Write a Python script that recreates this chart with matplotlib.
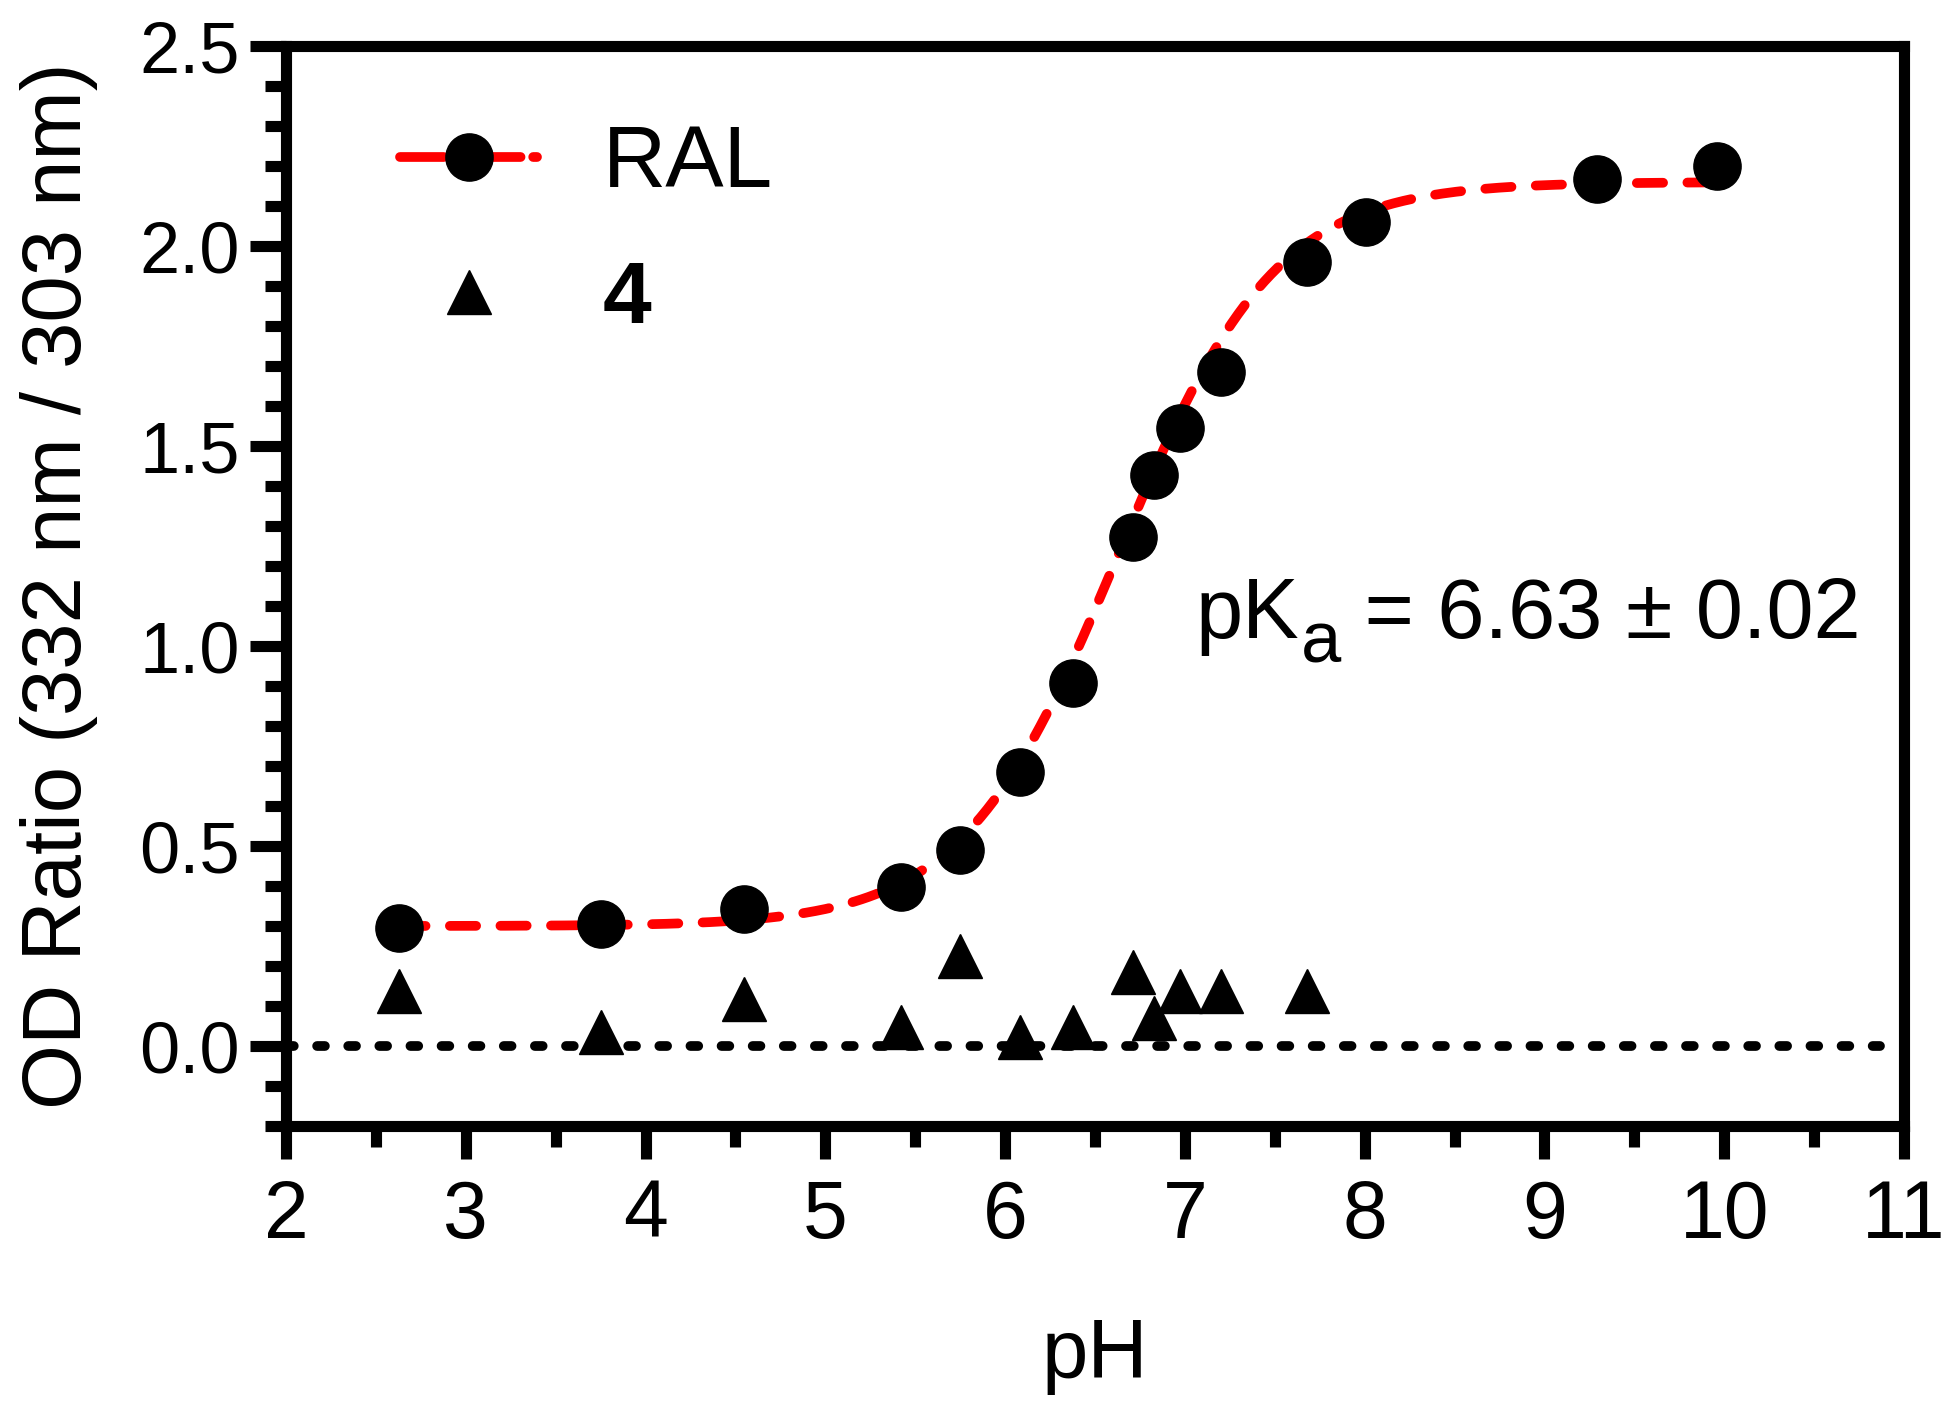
import numpy as np
import matplotlib
matplotlib.use('Agg')
import matplotlib.pyplot as plt
from matplotlib.ticker import FixedLocator, MultipleLocator

plt.rcParams['font.family'] = ['Liberation Sans', 'DejaVu Sans']
plt.rcParams['mathtext.default'] = 'regular'

# RAL absorbance ratio vs pH
ph_ral = [2.63, 3.75, 4.55, 5.42, 5.75, 6.08, 6.38, 6.71, 6.83, 6.97, 7.20, 7.68, 8.01, 9.29, 9.96]
od_ral = [0.295, 0.305, 0.342, 0.398, 0.491, 0.684, 0.908, 1.272, 1.428, 1.546, 1.686, 1.960, 2.059, 2.168, 2.199]

# compound 4
ph_4 = [2.63, 3.75, 4.55, 5.42, 5.75, 6.08, 6.38, 6.71, 6.83, 6.97, 7.20, 7.68]
od_4 = [0.137, 0.035, 0.117, 0.047, 0.226, 0.022, 0.047, 0.185, 0.07, 0.137, 0.137, 0.137]

# sigmoidal fit parameters
fit_bottom = 0.30
fit_top = 2.16
fit_pka = 6.63

xticks = [2, 3, 4, 5, 6, 7, 8, 9, 10, 11]
yticks = [0.0, 0.5, 1.0, 1.5, 2.0, 2.5]
ytick_labels = ['0.0', '0.5', '1.0', '1.5', '2.0', '2.5']

fig = plt.figure(figsize=(19.5, 14.12), dpi=100)
ax = fig.add_axes([0.1467, 0.2025, 0.8297, 0.7649])

# zero baseline
ax.axhline(0, xmin=0, xmax=0.985, color='black', lw=7, linestyle=(0, (0.8, 2.4)),
           dash_capstyle='round', zorder=1)

xfit = np.linspace(min(ph_ral), max(ph_ral), 400)
yfit = fit_bottom + (fit_top - fit_bottom) / (1 + 10 ** (fit_pka - xfit))
ax.plot(xfit, yfit, color='#ff0000', lw=7, linestyle=(0, (2.7, 2.5)),
        dash_capstyle='round', zorder=2)

ax.plot(ph_ral, od_ral, 'o', color='black', ms=34, zorder=4)
ax.plot(ph_4, od_4, '^', color='black', ms=32, zorder=3)

h1 = plt.Line2D([], [], color='#ff0000', lw=7, linestyle=(0, (4.5, 1.3, 0.8, 1.3)),
                dash_capstyle='round', marker='o', ms=34, mfc='black', mec='black')
h2 = plt.Line2D([], [], linestyle='none', marker='^', ms=32, color='black')
leg = fig.legend([h1, h2], ['RAL', '4'], loc='center left',
                 bbox_to_anchor=(0.2051, 0.8353), frameon=False, fontsize=63,
                 handlelength=1.57, handletextpad=0.75, labelspacing=0.62,
                 borderpad=0, borderaxespad=0)
leg.get_texts()[1].set_fontweight('bold')

# pKa annotation with a large, lowered subscript
t1 = ax.text(7.06, 1.02, 'pK', fontsize=61, va='baseline')
t2 = ax.annotate('a', xy=(1, 0), xycoords=(t1, t1), xytext=(1, -5),
                 textcoords='offset points', fontsize=52, va='baseline')
ax.annotate(' = 6.63 ± 0.02', xy=(1, 0), xycoords=(t2, t1), xytext=(0, 0),
            textcoords='offset points', fontsize=61, va='bottom')

ax.set_xlim(2, 11)
ax.set_ylim(-0.2, 2.5)
ax.xaxis.set_major_locator(FixedLocator(xticks))
ax.xaxis.set_minor_locator(MultipleLocator(0.5))
ax.yaxis.set_major_locator(FixedLocator(yticks))
ax.set_yticklabels(ytick_labels)
ax.yaxis.set_minor_locator(MultipleLocator(0.1))

for s in ax.spines.values():
    s.set_linewidth(8)
ax.tick_params(axis='both', which='major', width=8, direction='out')
ax.tick_params(axis='both', which='minor', width=8, length=15, direction='out')
ax.tick_params(axis='y', which='major', length=26, labelsize=52, pad=7)
ax.tick_params(axis='x', which='major', length=24, labelsize=58, pad=14)

ax.set_xlabel('pH', fontsize=60, labelpad=45)
ax.set_ylabel('OD Ratio (332 nm / 303 nm)', fontsize=60, labelpad=30)

fig.savefig('out.png', dpi=100, facecolor='white')
